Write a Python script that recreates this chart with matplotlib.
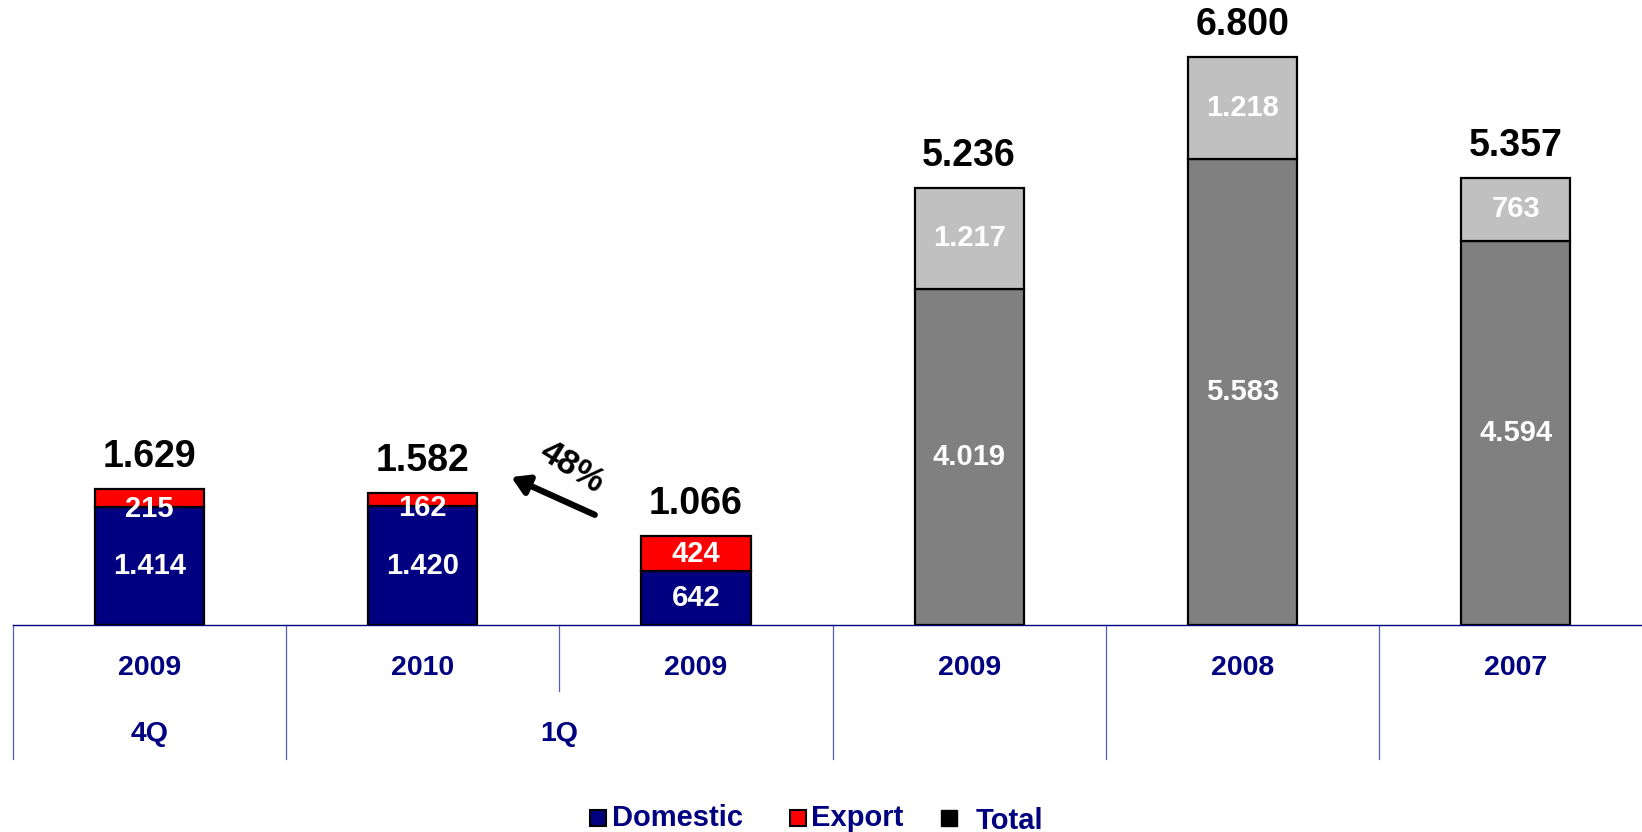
import numpy as np
import matplotlib.pyplot as plt
import matplotlib.transforms as mtransforms
from matplotlib.patches import Rectangle

plt.rcParams['font.family'] = ['Liberation Sans', 'DejaVu Sans']
plt.rcParams['font.weight'] = 'bold'

# data
years = ["2009", "2010", "2009", "2009", "2008", "2007"]
quarters = ["4Q", "1Q"]
domestic = [1414, 1420, 642]
export = [215, 162, 424]
q_totals = [1629, 1582, 1066]
annual_base = [4019, 5583, 4594]
annual_top = [1217, 1218, 763]
annual_totals = [5236, 6800, 5357]
growth = "48%"

navy = "#000080"
red = "#FF0000"
dgrey = "#808080"
lgrey = "#C0C0C0"

def fmt(v):
    return f"{v:,}".replace(",", ".")

fig = plt.figure(figsize=(16.42, 8.32), dpi=100)
ax = fig.add_axes([0.0077, 0.2488, 0.9923, 0.7512])
ax.set_xlim(-0.5, 5.462)
ax.set_ylim(0, 7482)

xq = np.arange(3)
xa = np.arange(3, 6)
w = 0.4

ax.bar(xq, domestic, w, color=navy, edgecolor="black", linewidth=1.6, zorder=3)
ax.bar(xq, export, w, bottom=domestic, color=red, edgecolor="black", linewidth=1.6, zorder=3)
ax.bar(xa, annual_base, w, color=dgrey, edgecolor="black", linewidth=1.6, zorder=3)
ax.bar(xa, annual_top, w, bottom=annual_base, color=lgrey, edgecolor="black", linewidth=1.6, zorder=3)

for x, d, e, t in zip(xq, domestic, export, q_totals):
    ax.text(x, d / 2, fmt(d), ha="center", va="center", color="white", fontsize=21, zorder=5)
    ye = d + e / 2 if e > 300 else d - 20
    ax.text(x, ye, fmt(e), ha="center", va="center", color="white", fontsize=21, zorder=5)
    ax.text(x, t + 380, fmt(t), ha="center", va="center", color="black", fontsize=27, zorder=5)

for x, b, tp, t in zip(xa, annual_base, annual_top, annual_totals):
    ax.text(x, b / 2, fmt(b), ha="center", va="center", color="white", fontsize=21, zorder=5)
    ax.text(x, b + tp / 2, fmt(tp), ha="center", va="center", color="white", fontsize=21, zorder=5)
    ax.text(x, t + 380, fmt(t), ha="center", va="center", color="black", fontsize=27, zorder=5)

# growth arrow
ax.annotate("", xy=(1.324, 1771), xytext=(1.630, 1319),
            arrowprops=dict(arrowstyle="-|>,head_length=1.0,head_width=0.6",
                            color="black", lw=4.5, shrinkA=0, shrinkB=0))
ax.text(1.545, 1890, growth, rotation=-32, ha="center", va="center",
        fontsize=25, color="black")

# axis styling
for s in ["top", "right", "left"]:
    ax.spines[s].set_visible(False)
ax.spines["bottom"].set_color(navy)
ax.spines["bottom"].set_linewidth(1.0)
ax.set_xticks([])
ax.set_yticks([])

# category table below axis
tr = mtransforms.blended_transform_factory(ax.transData, fig.transFigure)
y_base = 1 - 625 / 832
y_bot = 1 - 759 / 832
y_mid = 1 - 691 / 832
div_col = "#5a5ab8"
for xb in [-0.5, 0.5, 2.5, 3.5, 4.5]:
    ax.plot([xb, xb], [y_base, y_bot], transform=tr, color=div_col, lw=0.9, clip_on=False)
ax.plot([1.5, 1.5], [y_base, y_mid], transform=tr, color=div_col, lw=0.9, clip_on=False)

for i, yr in enumerate(years):
    ax.text(i, 1 - 668 / 832, yr, transform=tr, ha="center", va="center",
            color=navy, fontsize=20.5)
ax.text(0, 1 - 734 / 832, quarters[0], transform=tr, ha="center", va="center",
        color=navy, fontsize=20.5)
ax.text(1.5, 1 - 734 / 832, quarters[1], transform=tr, ha="center", va="center",
        color=navy, fontsize=20.5)

# legend
def fx(p):
    return p / 1642

def fy(p):
    return 1 - p / 832

sq = 16
for x0, col in [(590, navy), (790, red)]:
    fig.patches.append(Rectangle((fx(x0), fy(826)), sq / 1642, sq / 832, transform=fig.transFigure,
                                 facecolor=col, edgecolor="black", linewidth=1.5))
fig.patches.append(Rectangle((fx(941), fy(826)), sq / 1642, sq / 832, transform=fig.transFigure,
                             facecolor="black", edgecolor="black", linewidth=1.0))
fig.text(fx(612), fy(818), "Domestic", ha="left", va="center", color=navy, fontsize=21)
fig.text(fx(811), fy(818), "Export", ha="left", va="center", color=navy, fontsize=21)
fig.text(fx(976), fy(821), "Total", ha="left", va="center", color=navy, fontsize=21)

fig.savefig("out.png", dpi=100)
